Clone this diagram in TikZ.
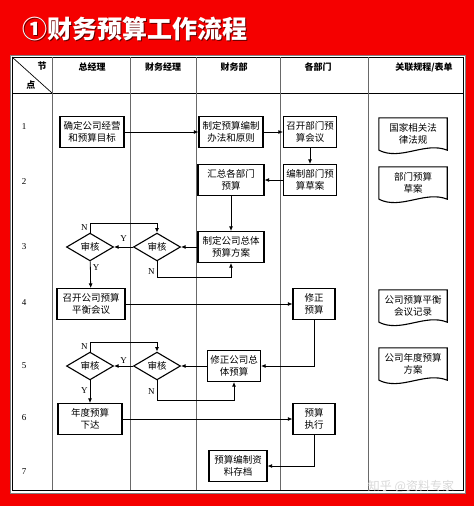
\documentclass[tikz,border=0pt]{standalone}
\usepackage{fontspec}
\setmainfont{Liberation Serif}
\newfontfamily\cjk{Noto Sans CJK SC}
\usetikzlibrary{shapes.geometric,arrows.meta}
\definecolor{bgred}{RGB}{245,0,0}
\definecolor{gridgray}{RGB}{105,105,105}

\begin{document}
\begin{tikzpicture}[x=1pt,y=-1pt,
  box/.style={draw,line width=1.1pt,fill=white,align=center,inner sep=1pt,
    font=\cjk\fontsize{9.5}{12.5}\selectfont,minimum height=31pt},
  shen/.style={diamond,draw,line width=1.1pt,fill=white,inner sep=0pt,
    minimum width=47pt,minimum height=27pt,font=\cjk\fontsize{9.5}{11}\selectfont},
  doc/.style={align=center,inner sep=1pt,minimum width=68pt,minimum height=32pt,
    font=\cjk\fontsize{9.5}{12.5}\selectfont},
  docline/.style={line width=1.1pt},
  arr/.style={line width=0.8pt,-{Latex[length=4.5pt,width=4pt]}},
  lbl/.style={font=\fontsize{9}{10}\selectfont,inner sep=2pt},
  head/.style={font=\cjk\bfseries\fontsize{9}{11}\selectfont}]

  % background and title
  \fill[bgred] (0,0) rectangle (474,506);
  \node[font=\cjk\bfseries\fontsize{25}{28}\selectfont,text=black!60!bgred] at (136.2,30.2) {①财务预算工作流程};
  \node[font=\cjk\bfseries\fontsize{25}{28}\selectfont,text=white] (title) at (135,29) {①财务预算工作流程};

  % table
  \fill[white,draw=gray,line width=0.6pt] (10,55) rectangle (465,493);
  \draw[line width=0.9pt] (12,57) rectangle (463,490);
  \draw[line width=0.8pt] (12,93) -- (463,93);
  \foreach \x in {52,130,196,280,368}
    \draw[gridgray,line width=0.7pt] (\x,57) -- (\x,490);
  \draw[line width=0.7pt] (12,57) -- (52,93);

  % header
  \node[head] (jie) at (42,66) {节};
  \node[head] (dian) at (31,85) {点};
  \node[head] (zjl) at (92,67) {总经理};
  \node[head] (cwjl) at (163,67) {财务经理};
  \node[head] (cwb) at (234,67) {财务部};
  \node[head] (gbm) at (318,67) {各部门};
  \node[head] (glgc) at (424,67) {关联规程/表单};

  \foreach \n/\y in {1/127,2/182,3/247,4/303,5/366,6/418,7/472}
    \node[lbl] (hang\n) at (24,\y) {\n};

  % steps
  \node[box,minimum width=64pt] (mubiao) at (92,132) {确定公司经营\\和预算目标};
  \node[box,minimum width=64pt] (banfa) at (231,132) {制定预算编制\\办法和原则};
  \node[box,minimum width=53pt] (huiyi) at (310,132) {召开部门预\\算会议};
  \node[box,minimum width=53pt] (caoan) at (310,180) {编制部门预\\算草案};
  \node[box,minimum width=66pt] (huizong) at (231,180) {汇总各部门\\预算};
  \node[box,minimum width=66pt] (zongti) at (231,247) {制定公司总体\\预算方案};
  \node[shen] (shen1) at (157,247) {审核};
  \node[shen] (shen2) at (90,247) {审核};
  \node[box,minimum width=68pt] (pingheng) at (91,304) {召开公司预算\\平衡会议};
  \node[box,minimum width=42pt] (xiuzheng) at (314,304) {修正\\预算};
  \node[box,minimum width=53pt] (xiuzong) at (234,366) {修正公司总\\体预算};
  \node[shen,minimum height=24pt] (shen3) at (157,366) {审核};
  \node[shen,minimum height=24pt] (shen4) at (90,366) {审核};
  \node[box,minimum width=64pt] (xiada) at (90,419) {年度预算\\下达};
  \node[box,minimum width=42pt] (zhixing) at (314,419) {预算\\执行};
  \node[box,minimum width=58pt] (cundang) at (238,466) {预算编制资\\料存档};

  % documents
  \node[doc] (fagui) at (413,134) {国家相关法\\律法规};
  \node[doc] (bmcaoan) at (413,183) {部门预算\\草案};
  \node[doc] (jilu) at (413,306) {公司预算平衡\\会议记录};
  \node[doc] (ndfangan) at (413,364) {公司年度预算\\方案};
  \foreach \d in {fagui,bmcaoan,jilu,ndfangan}
    \draw[docline] (\d.south west) -- (\d.north west) -- (\d.north east) -- (\d.south east)
      .. controls +(-22,-9) and +(22,11) .. (\d.south west);

  % flow
  \draw[arr] (mubiao) -- (banfa);
  \draw[arr] (banfa) -- (huiyi);
  \draw[arr] (huiyi) -- (caoan);
  \draw[arr] (caoan) -- (huizong);
  \draw[arr] (huizong) -- (zongti);
  \draw[arr] (zongti) -- (shen1);
  \draw[arr] (shen1) -- node[lbl,above=3pt]{Y} (shen2);
  \draw[arr] (shen1.south) -- node[lbl,left,pos=0.6]{N} ++(0,16) -| (zongti.south);
  \draw[arr] (shen2.north) -- node[lbl,left]{N} ++(0,-9) -| (shen1.north);
  \draw[arr] (shen2) -- node[lbl,right,pos=0.25]{Y} (pingheng);
  \draw[arr] (pingheng) -- (xiuzheng);
  \draw[arr] (xiuzheng.south) |- (xiuzong.east);
  \draw[arr] (xiuzong) -- (shen3);
  \draw[arr] (shen3) -- node[lbl,above]{Y} (shen4);
  \draw[arr] (shen3.south) -- node[lbl,left,pos=0.55]{N} ++(0,20) -| (xiuzong.south);
  \draw[arr] (shen4.north) -- node[lbl,left]{N} ++(0,-9) -| (shen3.north);
  \draw[arr] (shen4) -- node[lbl,left,pos=0.45]{Y} (xiada);
  \draw[arr] (xiada) -- (zhixing);
  \draw[arr] (zhixing.south) |- (cundang.east);

  \node[font=\cjk\fontsize{12}{14}\selectfont,text=white!70!gray] (shuiyin) at (411,486) {知乎 @资料专家};
\end{tikzpicture}
\end{document}
